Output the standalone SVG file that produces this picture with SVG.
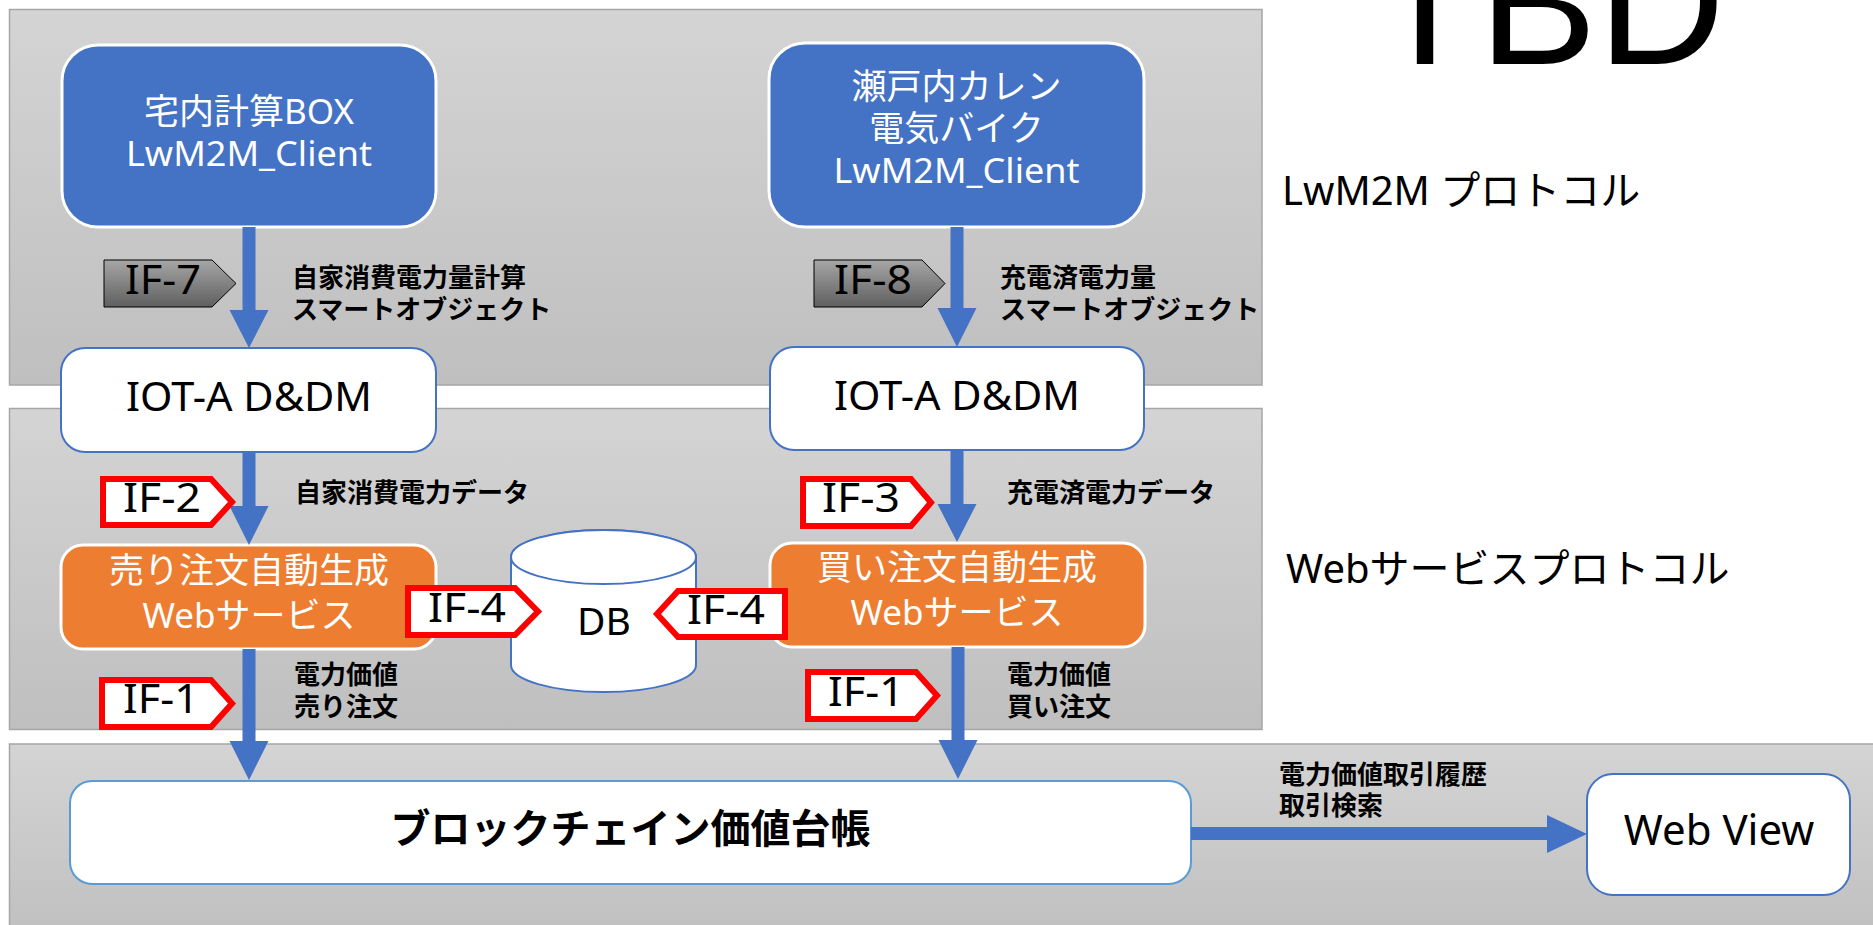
<svg xmlns="http://www.w3.org/2000/svg" width="1873" height="925" viewBox="0 0 1873 925">
<defs>
<linearGradient id="panelGrad" x1="0" y1="0" x2="0" y2="1">
<stop offset="0" stop-color="#d4d4d4"/>
<stop offset="1" stop-color="#bfbfbf"/>
</linearGradient>
<linearGradient id="tagGrad" x1="0" y1="0" x2="0" y2="1">
<stop offset="0" stop-color="#a6a6a6"/>
<stop offset="1" stop-color="#5f5f5f"/>
</linearGradient>
<style>
.panel{fill:url(#panelGrad);stroke:#a6a6a6;stroke-width:1.5}
.blue{fill:#4472C4;stroke:#ffffff;stroke-width:3}
.orange{fill:#ED7D31;stroke:#ffffff;stroke-width:3}
.white{fill:#ffffff;stroke:#4472C4;stroke-width:2}
.ledger{fill:#ffffff;stroke:#5B9BD5;stroke-width:2}
.arrow{fill:#4472C4;stroke:none}
.gtag{fill:url(#tagGrad);stroke:#000000;stroke-width:1}
.rtag{fill:#ffffff;stroke:#ff0000;stroke-width:6;stroke-linejoin:miter}
.t{font-family:"Noto Sans","Noto Sans CJK JP",sans-serif}
.wt{fill:#ffffff;font-size:35px;text-anchor:middle}
.bt{fill:#000000;font-size:40px;text-anchor:middle}
.tag{fill:#000000;font-size:40px}
.lbl{fill:#000000;font-size:26px;font-weight:700}
.side{fill:#000000;font-size:40px}
</style>
</defs>

<g id="panels">
<rect class="panel" x="9.5" y="9.5" width="1252.5" height="375.5"/>
<rect class="panel" x="9.5" y="408.5" width="1252.5" height="321"/>
<rect class="panel" x="9.5" y="744" width="1870" height="200"/>
</g>

<g id="side-labels">
<text x="1371" y="64" style="font-family:'Liberation Sans',Arial,sans-serif;font-size:177px;fill:#000">TBD</text>
<text class="t side" x="1282" y="205">LwM2M プロトコル</text>
<text class="t side" x="1286" y="583">Webサービスプロトコル</text>
</g>

<g id="node-box1">
<rect class="blue" x="62" y="45" width="374" height="182" rx="36"/>
<text class="t wt"><tspan x="249" y="124">宅内計算BOX</tspan><tspan x="249" y="166" textLength="246" lengthAdjust="spacingAndGlyphs">LwM2M_Client</tspan></text>
</g>

<g id="node-box2">
<rect class="blue" x="769" y="43" width="375" height="184" rx="36"/>
<text class="t wt"><tspan x="956.5" y="99">瀬戸内カレン</tspan><tspan x="956.5" y="141">電気バイク</tspan><tspan x="956.5" y="183" textLength="246" lengthAdjust="spacingAndGlyphs">LwM2M_Client</tspan></text>
</g>

<g id="node-iota-left">
<rect class="white" x="61" y="348" width="375" height="104" rx="24"/>
<text class="t bt" x="249" y="411" textLength="246" lengthAdjust="spacingAndGlyphs">IOT-A D&amp;DM</text>
</g>

<g id="node-iota-right">
<rect class="white" x="770" y="347" width="374" height="103" rx="24"/>
<text class="t bt" x="957" y="410" textLength="246" lengthAdjust="spacingAndGlyphs">IOT-A D&amp;DM</text>
</g>

<g id="node-sell">
<rect class="orange" x="61" y="545" width="375" height="104" rx="22"/>
<text class="t wt"><tspan x="249" y="583">売り注文自動生成</tspan><tspan x="249" y="628">Webサービス</tspan></text>
</g>

<g id="node-buy">
<rect class="orange" x="770" y="543" width="375" height="104" rx="22"/>
<text class="t wt"><tspan x="957" y="580">買い注文自動生成</tspan><tspan x="957" y="625">Webサービス</tspan></text>
</g>

<g id="node-db">
<path d="M511,557 V665 A92.5,27 0 0 0 696,665 V557 A92.5,27 0 0 0 511,557 Z" fill="#ffffff" stroke="#4472C4" stroke-width="2"/>
<ellipse cx="603.5" cy="557" rx="92.5" ry="27" fill="#ffffff" stroke="#4472C4" stroke-width="2"/>
<text class="t" x="604" y="635" style="font-size:39px;text-anchor:middle;fill:#000">DB</text>
</g>

<g id="node-ledger">
<rect class="ledger" x="70" y="781" width="1121" height="103" rx="22"/>
<text class="t" x="630.5" y="843" style="font-size:40px;font-weight:700;text-anchor:middle;fill:#000">ブロックチェイン価値台帳</text>
</g>

<g id="node-webview">
<rect class="white" x="1587" y="774" width="263" height="121" rx="26"/>
<text class="t" x="1719" y="845" style="font-size:42px;text-anchor:middle;fill:#000">Web View</text>
</g>

<g id="connectors">
<path class="arrow" d="M242.5,227 H255.5 V310 H268.5 L249,348 L229.5,310 H242.5 Z"/>
<path class="arrow" d="M950.5,227 H963.5 V308 H976.5 L957,347 L937.5,308 H950.5 Z"/>
<path class="arrow" d="M242.5,452 H255.5 V506 H268.5 L249,545 L229.5,506 H242.5 Z"/>
<path class="arrow" d="M950.5,450 H963.5 V504 H976.5 L957,542 L937.5,504 H950.5 Z"/>
<path class="arrow" d="M242.5,649 H255.5 V741 H268.5 L249,780 L229.5,741 H242.5 Z"/>
<path class="arrow" d="M951.5,647 H964.5 V740 H977.5 L958,779 L938.5,740 H951.5 Z"/>
<path class="arrow" d="M1191,827 H1547 V815 L1587,834 L1547,853 V840 H1191 Z"/>
</g>

<g id="tag-if7">
<path class="gtag" d="M104,260 H212 L236,283.5 L212,307 H104 Z"/>
<text class="t tag" x="125" y="294" textLength="76" lengthAdjust="spacingAndGlyphs">IF-7</text>
</g>
<g id="tag-if8">
<path class="gtag" d="M814,260 H922 L945,283.5 L922,307 H814 Z"/>
<text class="t tag" x="834" y="294" textLength="78" lengthAdjust="spacingAndGlyphs">IF-8</text>
</g>
<g id="tag-if2">
<path class="rtag" d="M103,479 H211 L232,502 L211,525 H103 Z"/>
<text class="t tag" x="123" y="512" textLength="78" lengthAdjust="spacingAndGlyphs">IF-2</text>
</g>
<g id="tag-if3">
<path class="rtag" d="M803,479 H911 L931,502.5 L911,526 H803 Z"/>
<text class="t tag" x="822" y="512" textLength="78" lengthAdjust="spacingAndGlyphs">IF-3</text>
</g>
<g id="tag-if4-left">
<path class="rtag" d="M408,588 H515 L538,611.5 L515,635 H408 Z"/>
<text class="t tag" x="428" y="622" textLength="78" lengthAdjust="spacingAndGlyphs">IF-4</text>
</g>
<g id="tag-if4-right">
<path class="rtag" d="M785,591 H678 L657,614 L678,637 H785 Z"/>
<text class="t tag" x="687" y="624" textLength="78" lengthAdjust="spacingAndGlyphs">IF-4</text>
</g>
<g id="tag-if1-left">
<path class="rtag" d="M102,680 H211 L232,703.5 L211,727 H102 Z"/>
<text class="t tag" x="123" y="713" textLength="76" lengthAdjust="spacingAndGlyphs">IF-1</text>
</g>
<g id="tag-if1-right">
<path class="rtag" d="M808,672 H916 L937,695.5 L916,719 H808 Z"/>
<text class="t tag" x="828" y="706" textLength="76" lengthAdjust="spacingAndGlyphs">IF-1</text>
</g>

<g id="labels">
<text class="t lbl"><tspan x="292" y="287">自家消費電力量計算</tspan><tspan x="292" y="319">スマートオブジェクト</tspan></text>
<text class="t lbl"><tspan x="1000" y="287">充電済電力量</tspan><tspan x="1000" y="319">スマートオブジェクト</tspan></text>
<text class="t lbl" x="295" y="502">自家消費電力データ</text>
<text class="t lbl" x="1007" y="502">充電済電力データ</text>
<text class="t lbl"><tspan x="294" y="684">電力価値</tspan><tspan x="294" y="716">売り注文</tspan></text>
<text class="t lbl"><tspan x="1007" y="684">電力価値</tspan><tspan x="1007" y="716">買い注文</tspan></text>
<text class="t lbl"><tspan x="1279" y="784">電力価値取引履歴</tspan><tspan x="1279" y="815">取引検索</tspan></text>
</g>
</svg>
